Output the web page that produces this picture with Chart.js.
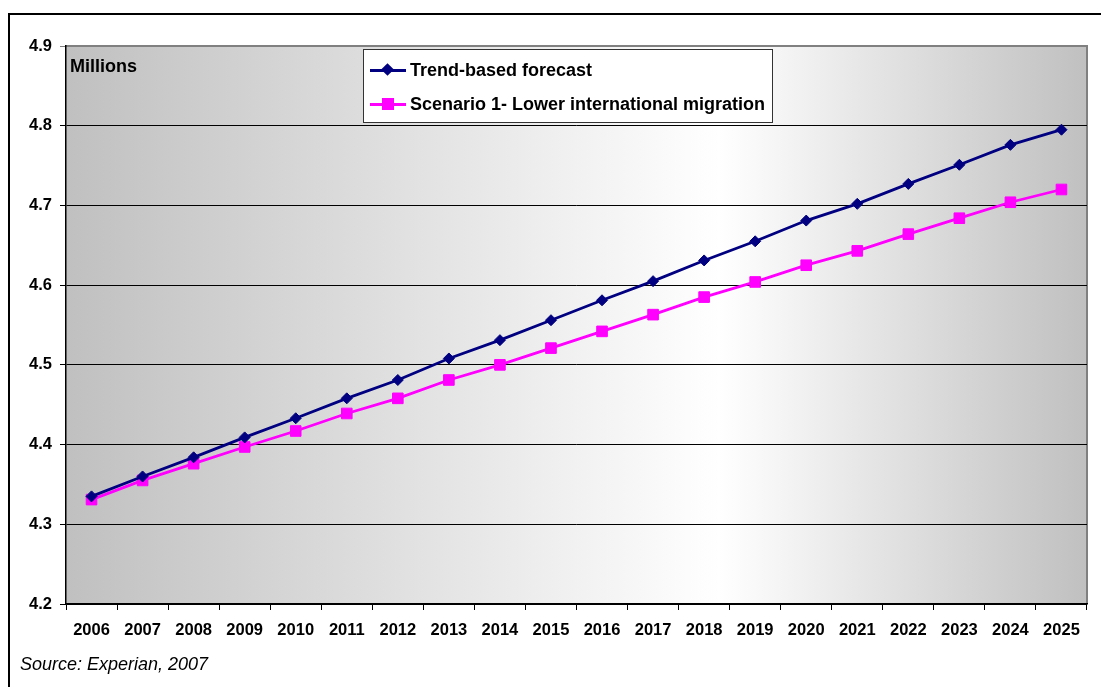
<!DOCTYPE html>
<html lang="en">
<head>
  <meta charset="UTF-8">
  <title>Population forecast</title>
  <script src="https://cdn.jsdelivr.net/npm/chart.js"></script>
  <style>
    html, body { margin: 0; padding: 0; background: #fff; }
    body { width: 1101px; height: 687px; position: relative; overflow: hidden; font-family: 'Liberation Sans', Arial, sans-serif; }
    #wrap { position: absolute; left: 0; top: 0; width: 1101px; height: 687px; }
    .frame { position: absolute; left: 8px; top: 13px; width: 1110px; height: 700px; border: 2px solid #000; box-sizing: border-box; pointer-events: none; }
    .millions { position: absolute; left: 70px; top: 56px; font-weight: bold; font-size: 18px; color: #000; }
    .source { position: absolute; left: 20px; top: 654px; font-style: italic; font-size: 18px; color: #000; }
    .legend { position: absolute; left: 363px; top: 49px; width: 410px; height: 74px; background: #fff; border: 1px solid #333; box-sizing: border-box; }
    .item { position: absolute; left: 6px; height: 20px; display: flex; align-items: center; font-weight: bold; font-size: 18px; white-space: nowrap; }
    .sample { position: relative; width: 36px; height: 20px; margin-right: 4px; flex: none; }
    .sample .ln { position: absolute; left: 0; top: 9px; width: 36px; height: 3px; }
    .sample .mk { position: absolute; }
  </style>
</head>
<body>
  <div id="wrap"><canvas id="chart" width="1101" height="687"></canvas></div>
  <div class="frame"></div>
  <div class="millions">Millions</div>
  <div class="legend">
    <div class="item" style="top:10px">
      <div class="sample"><div class="ln" style="background:#000080"></div><div class="mk" style="left:13px;top:5px;width:9px;height:9px;background:#000080;transform:rotate(45deg)"></div></div>
      <span>Trend-based forecast</span>
    </div>
    <div class="item" style="top:44px">
      <div class="sample"><div class="ln" style="background:#ff00ff"></div><div class="mk" style="left:12px;top:4px;width:12px;height:12px;background:#ff00ff"></div></div>
      <span>Scenario 1- Lower international migration</span>
    </div>
  </div>
  <div class="source">Source: Experian, 2007</div>

  <script>
    const years = ['2006', '2007', '2008', '2009', '2010', '2011', '2012', '2013', '2014', '2015',
                   '2016', '2017', '2018', '2019', '2020', '2021', '2022', '2023', '2024', '2025'];
    const trendForecast = [4.335, 4.360, 4.384, 4.409, 4.433, 4.458, 4.481, 4.508, 4.531, 4.556,
                           4.581, 4.605, 4.631, 4.655, 4.681, 4.702, 4.727, 4.751, 4.776, 4.795];
    const lowerMigration = [4.331, 4.355, 4.376, 4.397, 4.417, 4.439, 4.458, 4.481, 4.500, 4.521,
                            4.542, 4.563, 4.585, 4.604, 4.625, 4.643, 4.664, 4.684, 4.704, 4.720];
    const yMin = 4.2, yMax = 4.9, yStep = 0.1;

    // plot background: grey -> white -> grey, plus grey top/right edges
    const plotBackground = {
      id: 'plotBackground',
      beforeDraw(chart) {
        const { ctx, chartArea: a } = chart;
        const g = ctx.createLinearGradient(a.left, 0, a.right, 0);
        g.addColorStop(0, '#c0c0c0');
        g.addColorStop(0.64, '#ffffff');
        g.addColorStop(1, '#c0c0c0');
        ctx.save();
        ctx.fillStyle = g;
        ctx.fillRect(a.left, a.top, a.right - a.left, a.bottom - a.top);
        ctx.strokeStyle = '#808080';
        ctx.lineWidth = 2;
        ctx.beginPath();
        ctx.moveTo(a.left, a.top);
        ctx.lineTo(a.right, a.top);
        ctx.lineTo(a.right, a.bottom);
        ctx.stroke();
        ctx.restore();
      }
    };

    new Chart(document.getElementById('chart'), {
      type: 'line',
      data: {
        labels: years,
        datasets: [{
          label: 'Trend-based forecast',
          data: trendForecast,
          borderColor: '#000080',
          backgroundColor: '#000080',
          borderWidth: 2.8,
          pointStyle: 'rectRot',
          pointRadius: 5.5,
          pointBorderWidth: 1,
          tension: 0
        }, {
          label: 'Scenario 1- Lower international migration',
          data: lowerMigration,
          borderColor: '#ff00ff',
          backgroundColor: '#ff00ff',
          borderWidth: 2.8,
          pointStyle: 'rect',
          pointRadius: 7.5,
          pointBorderWidth: 1,
          tension: 0
        }]
      },
      options: {
        responsive: false,
        animation: false,
        layout: { padding: { top: 46, right: 14, bottom: 33, left: 0 } },
        plugins: { legend: { display: false }, tooltip: { enabled: false } },
        scales: {
          x: {
            offset: true,
            grid: { offset: true, drawOnChartArea: false, drawTicks: true, tickLength: 6, color: '#000' },
            border: { color: '#000', width: 1.5 },
            ticks: { color: '#000', padding: 11, maxRotation: 0, autoSkip: false,
                     font: { family: 'Liberation Sans', size: 16.5, weight: 'bold' } },
            afterFit(scale) { scale.height = 50; }
          },
          y: {
            min: yMin, max: yMax,
            grid: {
              color: ctx => (ctx.tick && Math.abs(ctx.tick.value - yMax) < 1e-6) ? '#808080' : '#000',
              lineWidth: 1, tickLength: 6
            },
            border: { color: '#000', width: 1.5 },
            ticks: { stepSize: yStep, color: '#000', padding: 8,
                     callback: v => v.toFixed(1),
                     font: { family: 'Liberation Sans', size: 16.5, weight: 'bold' } },
            afterFit(scale) { scale.width = 66; }
          }
        }
      },
      plugins: [plotBackground]
    });
  </script>
</body>
</html>
